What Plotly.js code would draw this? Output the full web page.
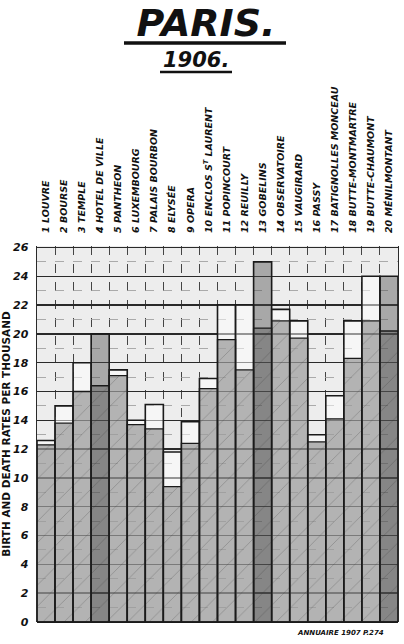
<!DOCTYPE html>
<html>
<head>
<meta charset="utf-8">
<script src="https://cdn.plot.ly/plotly-3.0.1.min.js"></script>
<style>
  html, body { margin: 0; padding: 0; background: #ffffff; }
  #chart { width: 404px; height: 644px; }
</style>
</head>
<body>
<div id="chart"></div>
<script>
// ---- data ----
const categories = [
  "1 LOUVRE", "2 BOURSE", "3 TEMPLE", "4 HOTEL DE VILLE", "5 PANTHEON",
  "6 LUXEMBOURG", "7 PALAIS BOURBON", "8 ELYSÉE", "9 OPERA", "10 ENCLOS S<sup>T</sup> LAURENT",
  "11 POPINCOURT", "12 REUILLY", "13 GOBELINS", "14 OBSERVATOIRE", "15 VAUGIRARD",
  "16 PASSY", "17 BATIGNOLLES MONCEAU", "18 BUTTE-MONTMARTRE", "19 BUTTE-CHAUMONT", "20 MÉNILMONTANT"
];
// upper value of each column (outlined box top)
const birthRate = [12.6, 15.0, 18.0, 20.0, 17.5, 14.0, 15.1, 11.8, 13.9, 16.9,
                   22.0, 22.0, 25.0, 21.7, 20.9, 13.0, 15.7, 20.9, 24.0, 24.0];
// lower value of each column (hatched part top)
const deathRate = [12.3, 13.8, 16.0, 16.4, 17.1, 13.7, 13.4, 9.4, 12.4, 16.2,
                   19.6, 17.5, 20.4, 20.9, 19.7, 12.5, 14.1, 18.3, 20.9, 20.2];
const yTickValues = [0, 2, 4, 6, 8, 10, 12, 14, 16, 18, 20, 22, 24, 26];
// columns whose upper box is drawn shaded in the original
const shadedUpperBox = ["4 HOTEL DE VILLE", "13 GOBELINS", "20 MÉNILMONTANT"];

// ---- layout constants ----
const W = 404, H = 644;
const M = { l: 37, r: 6, t: 246, b: 22 };
const plotW = W - M.l - M.r, plotH = H - M.t - M.b;
const px2x = (p) => (p - M.l) / plotW;
const py2y = (p) => (H - M.b - p) / plotH;

const xPos = categories.map((_, i) => i + 1);
const boundaries = categories.map((_, i) => i + 0.5).concat([categories.length + 0.5]);

const upperFill = categories.map(c =>
  shadedUpperBox.includes(c) ? "rgba(75,75,75,0.42)" : "rgba(255,255,255,0.5)");

const handFont = "DejaVu Sans, Liberation Sans, sans-serif";

const traces = [
  {
    type: "bar", name: "upper", x: xPos, y: birthRate, width: 1,
    marker: { color: upperFill, line: { color: "#1a1a1a", width: 1.6 } },
    hoverinfo: "skip"
  },
  {
    type: "bar", name: "lower", x: xPos, y: deathRate, width: 1,
    marker: {
      color: "rgba(85,85,85,0.42)",
      line: { color: "#1a1a1a", width: 1.3 },
      pattern: { shape: "/", fgcolor: "rgba(40,40,40,0.5)", size: 15, solidity: 0.06, fillmode: "overlay" }
    },
    hoverinfo: "skip"
  }
];

const layout = {
  width: W, height: H,
  margin: M,
  paper_bgcolor: "#ffffff",
  plot_bgcolor: "#ededed",
  showlegend: false,
  barmode: "overlay",
  title: {
    text: "<b><i>PARIS.</i></b>",
    font: { family: handFont, size: 38, color: "#111" },
    xref: "container", yref: "container",
    x: 0.51, xanchor: "center",
    y: 1 - 9 / H, yanchor: "top"
  },
  xaxis: {
    range: [0.5, categories.length + 0.5],
    side: "top",
    tickmode: "array", tickvals: xPos, ticktext: categories,
    tickangle: -90,
    ticks: "", ticklabelstandoff: 12,
    tickfont: { family: handFont, size: 9.5, color: "#111", weight: "bold", style: "italic" },
    showgrid: false, zeroline: false, showline: false,
    minor: { tickmode: "array", tickvals: boundaries, showgrid: true,
             gridcolor: "#444", gridwidth: 1, griddash: "dash", ticks: "" },
    fixedrange: true
  },
  yaxis: {
    range: [0, 26.1],
    tickmode: "array", tickvals: yTickValues,
    ticks: "", ticklabelstandoff: 5,
    tickfont: { family: handFont, size: 11, color: "#111", weight: "bold", style: "italic" },
    showgrid: true, gridcolor: "#2a2a2a", gridwidth: 1.4,
    zeroline: true, zerolinecolor: "#1a1a1a", zerolinewidth: 2,
    showline: true, linecolor: "#2a2a2a", linewidth: 1.4, mirror: true,
    minor: { dtick: 1, tick0: 0, showgrid: true, gridcolor: "#999", gridwidth: 0.8, griddash: "dash", ticks: "" },
    title: {
      text: "<b>BIRTH AND DEATH RATES PER THOUSAND</b>",
      font: { family: handFont, size: 10.5, color: "#111" },
      standoff: 3
    },
    fixedrange: true
  },
  annotations: [
    {
      text: "<b><i>1906.</i></b>", showarrow: false,
      xref: "paper", yref: "paper", x: px2x(196), y: py2y(60),
      xanchor: "center", yanchor: "middle",
      font: { family: handFont, size: 21, color: "#111" }
    },
    {
      text: "<b><i>ANNUAIRE 1907 P.274</i></b>", showarrow: false,
      xref: "paper", yref: "paper", x: px2x(386), y: py2y(633),
      xanchor: "right", yanchor: "middle",
      font: { family: handFont, size: 7, color: "#111" }
    }
  ],
  shapes: [
    { type: "line", xref: "paper", yref: "paper", layer: "above",
      x0: px2x(124), x1: px2x(286), y0: py2y(43), y1: py2y(43),
      line: { color: "#111", width: 3.5 } },
    { type: "line", xref: "paper", yref: "paper", layer: "above",
      x0: px2x(160), x1: px2x(232), y0: py2y(72), y1: py2y(72),
      line: { color: "#111", width: 2.5 } }
  ]
};

Plotly.newPlot("chart", traces, layout, { staticPlot: true, displayModeBar: false });
</script>
</body>
</html>
